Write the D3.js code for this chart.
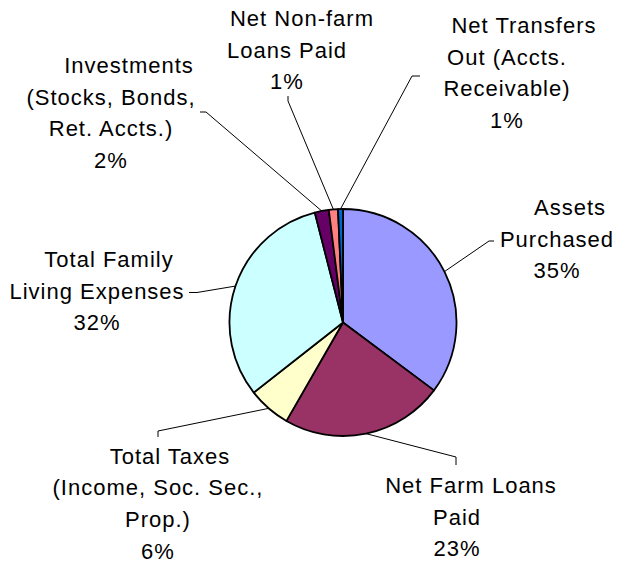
<!DOCTYPE html>
<html>
<head>
<meta charset="utf-8">
<script src="https://cdn.jsdelivr.net/npm/d3@7"></script>
<style>
  html, body { margin: 0; padding: 0; background: #ffffff; }
  svg { display: block; }
  text { font-family: "Liberation Sans", Arial, sans-serif; font-size: 22px; letter-spacing: 1px; fill: #000; }
</style>
</head>
<body>
<svg id="chart" width="618" height="564"></svg>
<script>
// Uses of farm cash, share of total (percent)
const categories = [
  "Assets Purchased",
  "Net Farm Loans Paid",
  "Total Taxes (Income, Soc. Sec., Prop.)",
  "Total Family Living Expenses",
  "Investments (Stocks, Bonds, Ret. Accts.)",
  "Net Non-farm Loans Paid",
  "Net Transfers Out (Accts. Receivable)"
];
const values = [35.2, 23.1, 6.1, 31.6, 2.0, 1.3, 0.7];

// Category names as wrapped onto label lines
const labelLines = [
  ["Assets", "Purchased"],
  ["Net Farm Loans", "Paid"],
  ["Total Taxes", "(Income, Soc. Sec.,", "Prop.)"],
  ["Total Family", "Living Expenses"],
  ["Investments", "(Stocks, Bonds,", "Ret. Accts.)"],
  ["Net Non-farm", "Loans Paid"],
  ["Net Transfers", "Out (Accts.", "Receivable)"]
];

const colors = ["#9999FF", "#993366", "#FFFFCC", "#CCFFFF", "#660066", "#FF8080", "#0066CC"];

// Label placement: line centre x, first baseline y, first-line offset, leader bend points
const labelLayout = [
  { cx: 557, y0: 215, firstDx: 13, leader: [[489, 241], [494, 241]] },
  { cx: 457, y0: 493, firstDx: 14, leader: [[456, 457], [456, 465]] },
  { cx: 158, y0: 463.5, firstDx: 12, leader: [[158, 431], [158, 437]] },
  { cx: 97,  y0: 267, firstDx: 12, leader: [[197, 292.5], [189, 292.5]] },
  { cx: 111, y0: 73,  firstDx: 18, leader: [[206, 112], [200, 112]] },
  { cx: 287, y0: 26,  firstDx: 15, leader: [[288, 101], [288, 96]] },
  { cx: 507, y0: 33,  firstDx: 17, leader: [[412, 76], [420, 76]] }
];

const lineHeight = 31.7;
const cx = 343, cy = 322.5, radius = 113.5;

const svg = d3.select("#chart");
const g = svg.append("g").attr("transform", `translate(${cx},${cy})`);

const pie = d3.pie().sort(null).value(d => d.value);
const arcs = pie(values.map((v, i) => ({ value: v, i })));
const arc = d3.arc().innerRadius(0).outerRadius(radius);

g.selectAll("path.slice")
  .data(arcs)
  .join("path")
  .attr("class", "slice")
  .attr("d", arc)
  .attr("fill", d => colors[d.data.i])
  .attr("stroke", "#000")
  .attr("stroke-width", 1.8)
  .attr("stroke-linejoin", "round");

// Leader lines from slice mid-angle on the rim to each label
const line = d3.line();
arcs.forEach(d => {
  const a = (d.startAngle + d.endAngle) / 2;
  const p0 = [cx + radius * Math.sin(a), cy - radius * Math.cos(a)];
  const pts = [p0].concat(labelLayout[d.data.i].leader);
  svg.append("path")
    .attr("d", line(pts))
    .attr("fill", "none")
    .attr("stroke", "#000")
    .attr("stroke-width", 1);
});

// Labels: category lines plus rounded percentage
arcs.forEach(d => {
  const i = d.data.i;
  const L = labelLayout[i];
  const lines = labelLines[i].concat([Math.round(values[i]) + "%"]);
  const t = svg.append("text").attr("text-anchor", "middle");
  lines.forEach((s, k) => {
    t.append("tspan")
      .attr("x", L.cx + (k === 0 ? L.firstDx : 0))
      .attr("y", L.y0 + k * lineHeight)
      .text(s);
  });
});
</script>
</body>
</html>
